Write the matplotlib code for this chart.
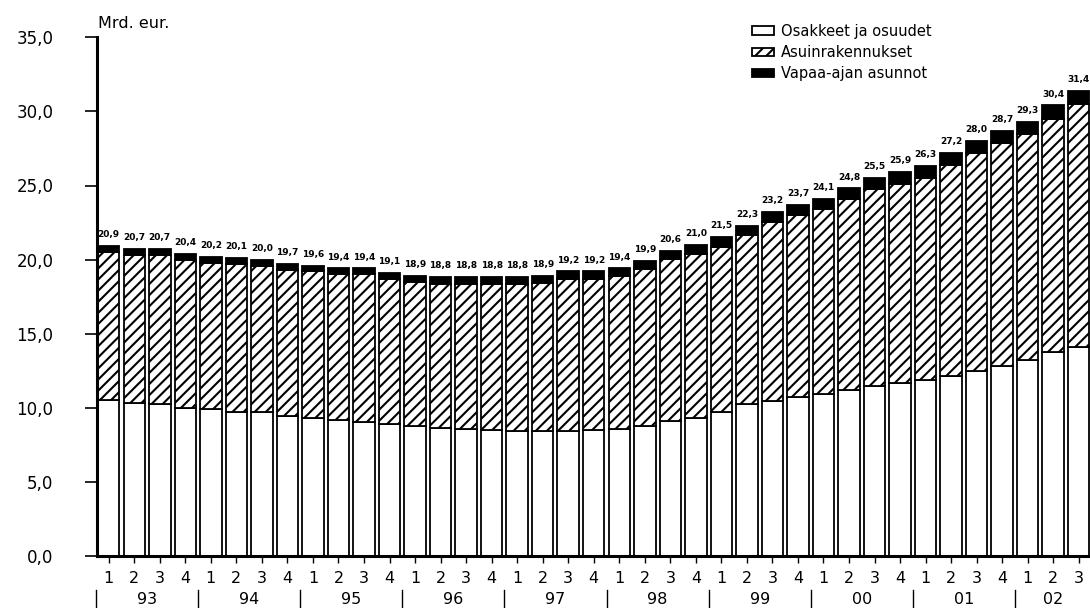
import numpy as np
import matplotlib
matplotlib.use("Agg")
import matplotlib.pyplot as plt
from matplotlib.patches import Patch

plt.rcParams['font.family'] = ['DejaVu Sans']
plt.rcParams['hatch.linewidth'] = 1.5

# quarterly stock, bn eur (labels on top of bars)
totals = [20.9, 20.7, 20.7, 20.4, 20.2, 20.1, 20.0, 19.7, 19.6, 19.4, 19.4, 19.1,
          18.9, 18.8, 18.8, 18.8, 18.8, 18.9, 19.2, 19.2, 19.4, 19.9, 20.6, 21.0,
          21.5, 22.3, 23.2, 23.7, 24.1, 24.8, 25.5, 25.9, 26.3, 27.2, 28.0, 28.7,
          29.3, 30.4, 31.4]
osakkeet = [10.5, 10.3, 10.25, 10.0, 9.95, 9.75, 9.7, 9.45, 9.3, 9.2, 9.05, 8.9,
            8.75, 8.65, 8.55, 8.5, 8.45, 8.45, 8.45, 8.5, 8.55, 8.75, 9.1, 9.3,
            9.7, 10.25, 10.45, 10.7, 10.9, 11.2, 11.45, 11.65, 11.85, 12.15, 12.5, 12.85,
            13.2, 13.75, 14.1]
asuin = [10.0, 10.0, 10.05, 10.0, 9.85, 9.95, 9.9, 9.85, 9.9, 9.8, 9.95, 9.8,
         9.73, 9.73, 9.83, 9.88, 9.93, 10.0, 10.25, 10.2, 10.33, 10.6, 10.92, 11.1,
         11.18, 11.42, 12.07, 12.32, 12.5, 12.9, 13.3, 13.47, 13.67, 14.25, 14.68, 15.0,
         15.25, 15.75, 16.38]
vapaa = [0.4, 0.4, 0.4, 0.4, 0.4, 0.4, 0.4, 0.4, 0.4, 0.4, 0.4, 0.4,
         0.42, 0.42, 0.42, 0.42, 0.42, 0.45, 0.5, 0.5, 0.52, 0.55, 0.58, 0.6,
         0.62, 0.63, 0.68, 0.68, 0.7, 0.7, 0.75, 0.78, 0.78, 0.8, 0.82, 0.85,
         0.85, 0.9, 0.92]
quarters = ["1", "2", "3", "4", "1", "2", "3", "4", "1", "2", "3", "4",
            "1", "2", "3", "4", "1", "2", "3", "4", "1", "2", "3", "4",
            "1", "2", "3", "4", "1", "2", "3", "4", "1", "2", "3", "4",
            "1", "2", "3"]
years = ["93", "94", "95", "96", "97", "98", "99", "00", "01", "02"]
series_names = ["Osakkeet ja osuudet", "Asuinrakennukset", "Vapaa-ajan asunnot"]


def fmt(v):
    return f"{v:.1f}".replace(".", ",")


W, H = 1090, 608
fig = plt.figure(figsize=(W / 100, H / 100), dpi=100)
ax = fig.add_axes([97 / W, 52 / H, (1091 - 97) / W, (556 - 37.3) / H])

x = np.arange(len(totals))
osak = np.array(osakkeet)
asu = np.array(asuin)
vap = np.array(vapaa)
bw = 0.84
lw = 1.3

b1 = ax.bar(x, osak, bw, color="white", edgecolor="black", linewidth=lw)
b2 = ax.bar(x, asu, bw, bottom=osak, color="white", edgecolor="black",
            hatch="///", linewidth=lw)
b3 = ax.bar(x, vap, bw, bottom=osak + asu, color="black", edgecolor="black",
            linewidth=lw)

for xi, t in zip(x, totals):
    top = osakkeet[xi] + asuin[xi] + vapaa[xi]
    ax.annotate(fmt(t), (xi, top), xytext=(0, 5), textcoords="offset points",
                ha="center", va="bottom", fontsize=6.5, fontweight="bold")

ax.set_xlim(-0.46, 38.48)
ax.set_ylim(0, 35)
ax.set_yticks(np.arange(0, 36, 5))
ax.set_yticklabels([fmt(v) for v in np.arange(0, 36, 5)], fontsize=12)
ax.tick_params(axis="y", direction="out", length=8.5, width=1.2, pad=23)
ax.set_xticks(x)
ax.set_xticklabels(quarters, fontsize=11.5)
ax.tick_params(axis="x", direction="out", length=5, width=1, pad=6)

for s in ["top", "right"]:
    ax.spines[s].set_visible(False)
ax.spines["left"].set_linewidth(2.2)
ax.spines["bottom"].set_linewidth(2.2)

# year groups under quarter labels
trans = ax.get_xaxis_transform()
for k, yr in enumerate(years):
    ax.plot([4 * k - 0.5, 4 * k - 0.5], [-0.066, -0.11], color="black", lw=1,
            transform=trans, clip_on=False)
    n = 3 if yr == "02" else 4
    ax.text(4 * k + (n - 1) / 2, -0.07, yr, transform=trans, ha="center",
            va="top", fontsize=11.5)

fig.text(98 / W, 1 - 24 / H, "Mrd. eur.", fontsize=11.5, va="center", ha="left")

handles = [Patch(facecolor="white", edgecolor="black", linewidth=1.3),
           Patch(facecolor="white", edgecolor="black", hatch="///", linewidth=1.3),
           Patch(facecolor="black", edgecolor="black", linewidth=1.3)]
fig.legend(handles, series_names, loc="upper left",
           bbox_to_anchor=(752 / W, 1 - 24 / H), frameon=False, fontsize=10.5,
           handlelength=1.5, handleheight=0.55, handletextpad=0.5,
           labelspacing=0.42, borderpad=0, borderaxespad=0)

fig.savefig("out.png", dpi=100, facecolor="white")
